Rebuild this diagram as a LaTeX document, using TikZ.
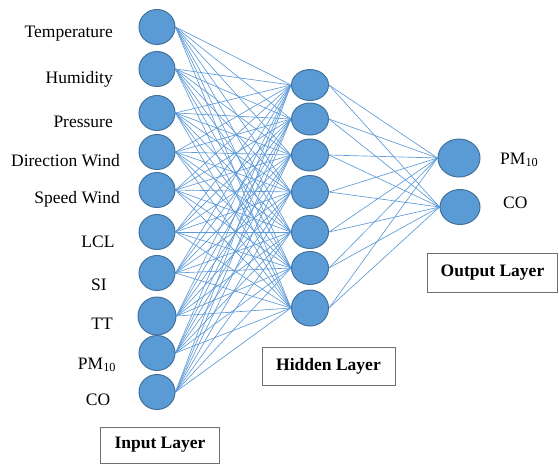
\documentclass[tikz,border=0pt]{standalone}
\usepackage{fontspec}
\setmainfont{Liberation Serif}
\usetikzlibrary{shapes.geometric,backgrounds}
\definecolor{nfill}{HTML}{5B9BD5}
\definecolor{nedge}{HTML}{41719C}
\definecolor{wire}{HTML}{5E9AD8}
\definecolor{boxedge}{HTML}{6F6F6F}
\tikzset{
  neuron/.style={ellipse, draw=nedge, fill=nfill, line width=1pt, inner sep=0pt},
  lbl/.style={font=\fontsize{17.5}{20}\selectfont, inner sep=0pt},
  layerbox/.style={draw=boxedge, line width=1pt, font=\fontsize{17.5}{20}\selectfont\bfseries, inner sep=0pt},
  wireline/.style={draw=wire, line width=0.65pt}
}
\begin{document}
\begin{tikzpicture}[x=1pt,y=-1pt]
\useasboundingbox (0,0) rectangle (559,464);
% input neurons
\foreach \n/\y/\w/\h in {1/27/36/35, 2/69/36/35, 3/113/36/35, 4/152/36/35, 5/190/36/35, 6/232/36/35, 7/273/36/35, 8/316/38/38, 9/353/36/35, 10/392/36/35}
  \node[neuron, minimum width=\w pt, minimum height=\h pt] (i\n) at (157,\y) {};
% hidden neurons
\foreach \n/\y/\h in {1/85/31, 2/119/32, 3/155/32, 4/192/33, 5/232/33, 6/268/33, 7/308/36}
  \node[neuron, minimum width=37pt, minimum height=\h pt] (h\n) at (310,\y) {};
% output neurons
\node[neuron, minimum width=42pt, minimum height=38pt] (o1) at (459,158) {};
\node[neuron, minimum width=40pt, minimum height=35pt] (o2) at (460,207) {};
% connections
\begin{scope}[on background layer]
\foreach \i in {1,...,10}
  \foreach \h in {1,...,7}
    \draw[wireline] (i\i.east) -- (h\h.west);
\foreach \h in {1,...,7}
  \foreach \o in {1,2}
    \draw[wireline] (h\h.east) -- (o\o.west);
\end{scope}
% input labels
\node[lbl, anchor=base east] (l1) at (113,37) {Temperature};
\node[lbl, anchor=base east] (l2) at (113,83) {Humidity};
\node[lbl, anchor=base east] (l3) at (113,127) {Pressure};
\node[lbl, anchor=base east] (l4) at (120,166) {Direction Wind};
\node[lbl, anchor=base east] (l5) at (120,203) {Speed Wind};
\node[lbl, anchor=base] (l6) at (98,247) {LCL};
\node[lbl, anchor=base] (l7) at (99,290) {SI};
\node[lbl, anchor=base] (l8) at (102,329) {TT};
\node[lbl, anchor=base] (l9) at (97,369) {PM\textsubscript{10}};
\node[lbl, anchor=base] (l10) at (98,405) {CO};
% output labels
\node[lbl, anchor=base west] (p1) at (500,164) {PM\textsubscript{10}};
\node[lbl, anchor=base west] (p2) at (503,208) {CO};
% layer boxes
\node[layerbox, minimum width=119pt, minimum height=36pt] (bin) at (160,445) {Input Layer};
\node[layerbox, minimum width=133pt, minimum height=38pt] (bhid) at (328.5,366) {Hidden Layer};
\node[layerbox, minimum width=130pt, minimum height=39pt] (bout) at (492.5,272.5) {Output Layer};
\end{tikzpicture}
\end{document}
